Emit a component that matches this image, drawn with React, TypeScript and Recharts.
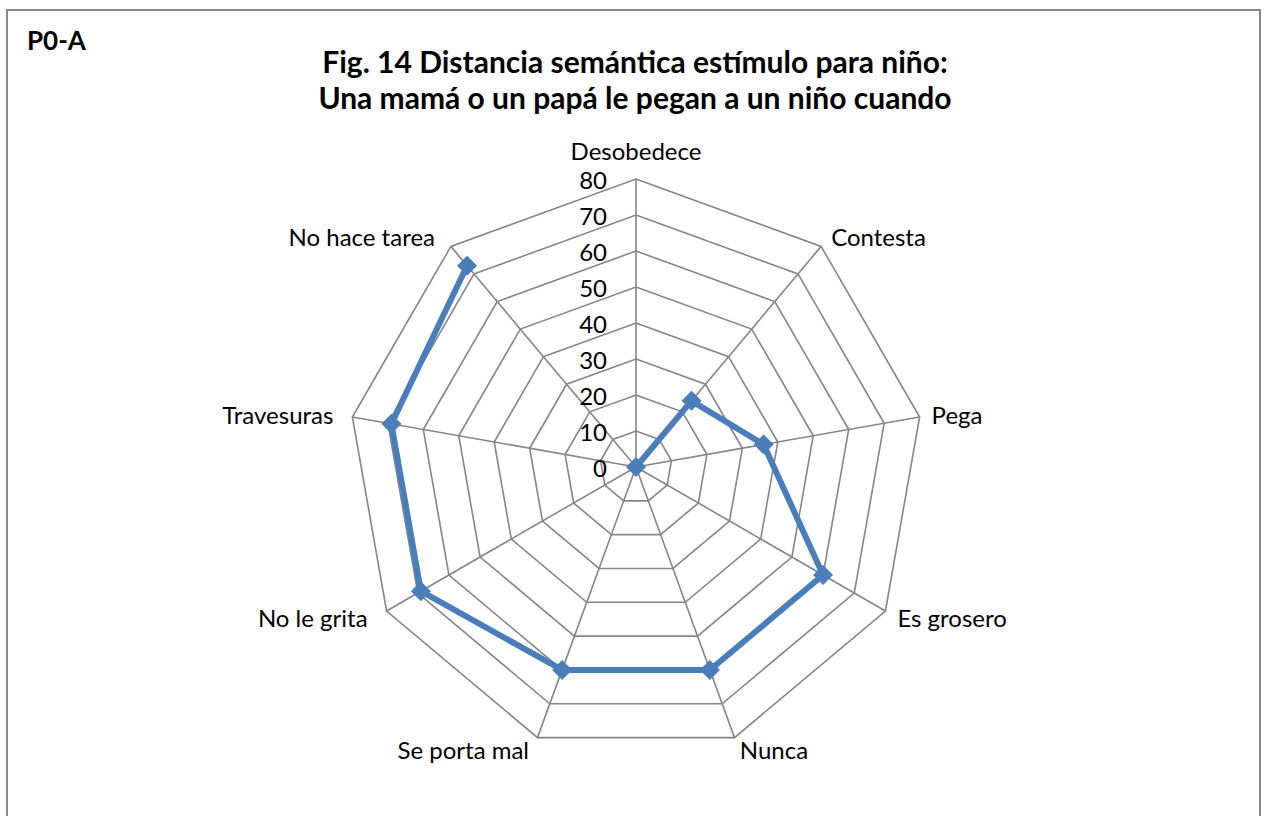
import { RadarChart, Radar, PolarGrid, PolarAngleAxis, PolarRadiusAxis } from 'recharts'

const CATEGORIES = ['Desobedece', 'Contesta', 'Pega', 'Es grosero', 'Nunca', 'Se porta mal', 'No le grita', 'Travesuras', 'No hace tarea']
const VALUES = [0, 24, 36, 60, 60, 60, 69, 69, 73]
const RADIUS_TICKS = [0, 10, 20, 30, 40, 50, 60, 70, 80]

const TITLE_LINES = ['Fig. 14 Distancia semántica estímulo para niño:', 'Una mamá o un papá le pegan a un niño cuando']
const CORNER_LABEL = 'P0-A'

const W = 1265
const H = 816
const CX = 636
const CY = 467
const R = 288
const FONT = 'Lato, "Open Sans", sans-serif'
const BLUE = '#4A7EBB'
const GRID = '#868686'

const data = CATEGORIES.map((name, i) => ({ name, value: VALUES[i] }))

function AngleTick(props: any) {
  const { payload } = props
  const a = (payload.coordinate * Math.PI) / 180
  const cos = Math.cos(a)
  const sin = Math.sin(a)
  const vx = CX + R * cos
  const vy = CY - R * sin
  let anchor = 'middle'
  let x = vx
  let y = vy - 13 * sin
  if (cos > 0.01) {
    anchor = 'start'
    x = vx + 12 * Math.min(1, cos * 1.3)
  } else if (cos < -0.01) {
    anchor = 'end'
    x = vx - 19 * Math.min(1, -cos * 1.3)
  } else {
    y = vy - 29
  }
  return (
    <text x={x} y={y} textAnchor={anchor} dominantBaseline="central" fontSize={24} fill="#000" fontFamily={FONT}>
      {payload.value}
    </text>
  )
}

function RadiusTick(props: any) {
  const { x, y, payload } = props
  return (
    <text x={x - 29} y={y} textAnchor="end" dominantBaseline="central" fontSize={24} fill="#000" fontFamily={FONT}>
      {payload.value}
    </text>
  )
}

function Diamond(props: any) {
  const { cx, cy } = props
  const s = 10
  return <path d={`M${cx},${cy - s}L${cx + s},${cy}L${cx},${cy + s}L${cx - s},${cy}Z`} fill={BLUE} />
}

// open line (the reference does not close the loop back to the first category)
function OpenLine(props: any) {
  const pts = props.points || []
  const d = pts.map((p: any, i: number) => `${i === 0 ? 'M' : 'L'}${p.x},${p.y}`).join('')
  return <path d={d} fill="none" stroke={BLUE} strokeWidth={6} strokeLinejoin="round" />
}

export default function App() {
  return (
    <div style={{ position: 'absolute', left: 0, top: 0, width: W, height: H, background: '#fff', overflow: 'hidden' }}>
      <div
        style={{
          position: 'absolute',
          left: 6,
          top: 9,
          width: 1255,
          height: 820,
          border: '2px solid #888',
          boxSizing: 'border-box',
        }}
      />
      <div style={{ position: 'absolute', left: 0, top: 0 }}>
        <RadarChart width={W} height={H} data={data} cx={CX} cy={CY} outerRadius={R} margin={{ top: 0, right: 0, bottom: 0, left: 0 }}>
          <text x={27} y={40} dominantBaseline="central" fontSize={26} fontWeight="bold" fontFamily={FONT} fill="#000">
            {CORNER_LABEL}
          </text>
          {TITLE_LINES.map((t, i) => (
            <text key={t} x={635} y={61 + i * 36} textAnchor="middle" dominantBaseline="central" fontSize={30} fontWeight="bold" fontFamily={FONT} fill="#000">
              {t}
            </text>
          ))}
          <PolarGrid gridType="polygon" stroke={GRID} strokeWidth={1.6} />
          <PolarAngleAxis dataKey="name" tick={<AngleTick />} tickLine={false} axisLine={false} />
          <PolarRadiusAxis
            angle={90}
            domain={[0, 80]}
            ticks={RADIUS_TICKS as any}
            tickCount={9}
            tick={<RadiusTick />}
            axisLine={false}
            tickLine={false}
          />
          <Radar
            dataKey="value"
            stroke={BLUE}
            strokeWidth={6}
            fill="none"
            fillOpacity={0}
            shape={(p: any) => <OpenLine {...p} />}
            dot={<Diamond />}
            isAnimationActive={false}
          />
        </RadarChart>
      </div>
    </div>
  )
}
